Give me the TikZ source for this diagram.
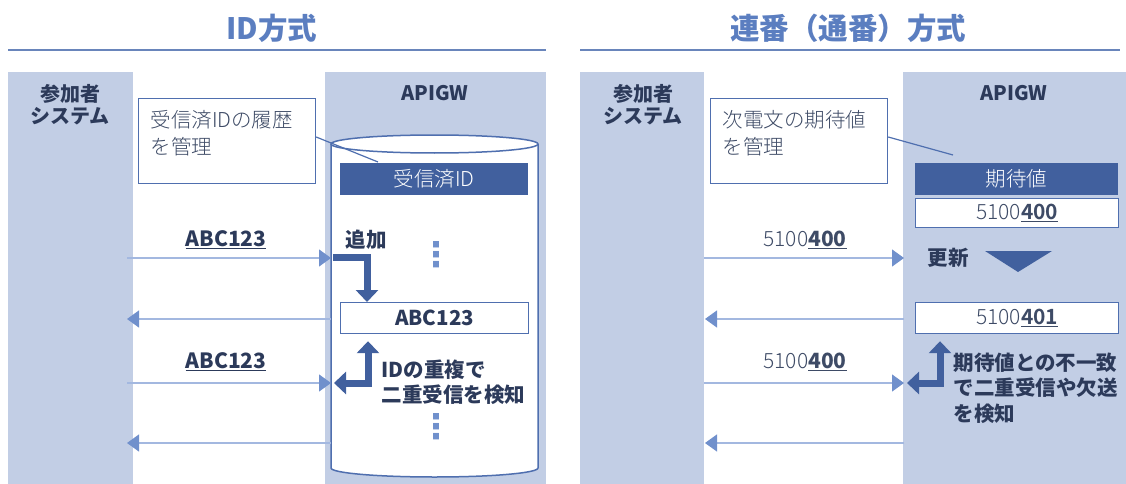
\documentclass[tikz,border=0pt]{standalone}
\usepackage{fontspec}
\setmainfont{Noto Sans CJK JP}
\IfFontExistsTF{Noto Sans CJK JP Light}{\newfontfamily\lightjp{Noto Sans CJK JP Light}}{\newfontfamily\lightjp{Noto Sans CJK JP}}
\newfontfamily\dejavu{DejaVu Sans}
\usetikzlibrary{arrows.meta}
\definecolor{colfill}{HTML}{C2CEE5}
\definecolor{titleblue}{HTML}{5B7EC0}
\definecolor{darkblue}{HTML}{41609E}
\definecolor{boxborder}{HTML}{4F6FAF}
\definecolor{thinline}{HTML}{A3B8E0}
\definecolor{headblue}{HTML}{7090CC}
\definecolor{txtdark}{HTML}{2C3A5A}
\definecolor{txtgray}{HTML}{3E4B66}
\tikzset{
  col/.style={fill=colfill, draw=none},
  ttl/.style={font=\fontsize{29.5}{32}\selectfont\bfseries, text=titleblue},
  colhead/.style={font=\fontsize{20}{25}\selectfont\bfseries, text=txtdark, align=center},
  callout/.style={draw=boxborder, line width=1.2pt, fill=white, inner sep=0pt},
  callouttext/.style={font=\fontsize{20.5}{27}\selectfont\lightjp, text=txtgray, align=left, anchor=north west},
  header/.style={fill=darkblue, draw=none, text=white, font=\fontsize{20.5}{22}\selectfont\lightjp, inner sep=0pt},
  valbox/.style={fill=white, draw=boxborder, line width=1.2pt, text=txtgray, font=\fontsize{21}{22}\selectfont\lightjp, inner sep=0pt},
  msg/.style={draw=thinline, line width=1.3pt, -{Triangle[width=17pt,length=12pt,color=headblue]}},
  lbl/.style={font=\fontsize{21}{22}\selectfont, text=txtdark},
  bigarrow/.style={draw=darkblue, line width=7pt},
  note/.style={font=\fontsize{20.5}{25.5}\selectfont\bfseries, text=txtdark, align=left},
  vdots/.style={text=headblue, font=\fontsize{34}{34}\selectfont\dejavu\bfseries, inner sep=0pt},
  leader/.style={draw=boxborder, line width=1.2pt}
}
\begin{document}
\begin{tikzpicture}[x=1pt,y=-1pt]
\useasboundingbox (0,0) rectangle (1126,484);
% ================= LEFT: ID方式 =================
\node[ttl] (t1) at (272,28) {ID方式};
\draw[boxborder!85, line width=1.6pt] (8,50) -- (546,50);
\fill[col] (8,72) rectangle (133,484);
\fill[col] (325,72) rectangle (546,484);
\node[colhead] (p1) at (70,105) {参加者\\[-3pt]システム};
\node[colhead] (g1) at (435,93) {APIGW};
% callout
\node[callout, minimum width=177pt, minimum height=85pt, anchor=north west] (c1) at (138,98) {};
\node[callouttext] (c1t) at (147,107) {受信済IDの履歴\\を管理};
% cylinder
\draw[boxborder, line width=1.5pt, fill=white] (331,144) -- (331,468)
  arc[start angle=180, end angle=0, x radius=103.5, y radius=9] -- (538,144);
\draw[boxborder, line width=1.5pt, fill=white] (434.5,144) ellipse[x radius=103.5, y radius=9];
\coordinate (c1end) at (378,162);
\draw[leader] (c1.east |- 0,137) -- (c1end);
\node[header, minimum width=188pt, minimum height=32pt, anchor=north west] (h1) at (340,163) {受信済ID};
\node[vdots] (d1) at (436,255) {⋮};
\node[valbox, minimum width=188pt, minimum height=31pt, anchor=north west, font=\fontsize{20.5}{22}\selectfont\bfseries, text=txtdark] (v1) at (340,302) {ABC123};
\node[vdots] (d2) at (436,427) {⋮};
% columns anchors
\coordinate (L1a) at (127,258); \coordinate (R1a) at (331,258);
\coordinate (L1b) at (127,319); \coordinate (R1b) at (331,319);
\coordinate (L1c) at (127,383); \coordinate (R1c) at (331,383);
\coordinate (L1d) at (127,443); \coordinate (R1d) at (331,443);
\draw[msg] (L1a) -- (R1a);
\draw[msg] (R1b) -- (L1b);
\draw[msg] (L1c) -- (R1c);
\draw[msg] (R1d) -- (L1d);
\node[lbl, font=\fontsize{21}{22}\selectfont\bfseries] (a1) at (226,240) {\underline{ABC123}};
\node[lbl, font=\fontsize{21}{22}\selectfont\bfseries] (a2) at (226,362) {\underline{ABC123}};
\node[note, anchor=west] (add1) at (342,240) {追加};
% big elbow arrows
\coordinate (e1s) at (333,257);
\coordinate (e1m) at (367,257);
\draw[bigarrow, -{Triangle[width=22pt,length=12pt]}] (e1s) -- (e1m) -- (e1m |- v1.north);
\coordinate (e2m) at (368,383);
\coordinate (e2l) at (334,383);
\draw[bigarrow, {Triangle[width=22pt,length=12pt]}-{Triangle[width=22pt,length=12pt]}] (e2m |- v1.south) ++(0,7) -- (e2m) -- (e2l);
\node[note, anchor=north west] (n1) at (378,356) {IDの重複で\\二重受信を検知};
% ================= RIGHT: 連番（通番）方式 =================
\node[ttl] (t2) at (848,28) {連番（通番）方式};
\draw[boxborder!85, line width=1.6pt] (580,50) -- (1120,50);
\fill[col] (580,72) rectangle (704,484);
\fill[col] (903,72) rectangle (1126,484);
\node[colhead] (p2) at (643,105) {参加者\\[-3pt]システム};
\node[colhead] (g2) at (1014,93) {APIGW};
\node[callout, minimum width=177pt, minimum height=85pt, anchor=north west] (c2) at (710,98) {};
\node[callouttext] (c2t) at (719,107) {次電文の期待値\\を管理};
\coordinate (c2end) at (953,155);
\draw[leader] (c2.east |- 0,137) -- (c2end);
\node[header, minimum width=203pt, minimum height=32pt, anchor=north west] (h2) at (915,163) {期待値};
\node[valbox, minimum width=203pt, minimum height=29pt, anchor=north west] (v2) at (915,198) {5100{\bfseries\underline{400}}};
\node[valbox, minimum width=203pt, minimum height=31pt, anchor=north west] (v3) at (915,302) {5100{\bfseries\underline{401}}};
\node[note, anchor=west] (upd) at (924,258) {更新};
\fill[darkblue] (985,251) -- (1052,251) -- (1018,272) -- cycle;
\coordinate (L2a) at (704,258); \coordinate (R2a) at (904,258);
\coordinate (L2b) at (705,319); \coordinate (R2b) at (904,319);
\coordinate (L2c) at (704,383); \coordinate (R2c) at (904,383);
\coordinate (L2d) at (705,443); \coordinate (R2d) at (904,443);
\draw[msg] (L2a) -- (R2a);
\draw[msg] (R2b) -- (L2b);
\draw[msg] (L2c) -- (R2c);
\draw[msg] (R2d) -- (L2d);
\node[lbl, text=txtgray] (b1) at (805,240) {{\lightjp 5100}{\bfseries\underline{400}}};
\node[lbl, text=txtgray] (b2) at (805,362) {{\lightjp 5100}{\bfseries\underline{400}}};
\coordinate (e3m) at (940,383);
\coordinate (e3l) at (907,383);
\draw[bigarrow, {Triangle[width=22pt,length=12pt]}-{Triangle[width=22pt,length=12pt]}] (e3m |- v3.south) ++(0,7) -- (e3m) -- (e3l);
\node[note, anchor=north west] (n2) at (950,349) {期待値との不一致\\で二重受信や欠送\\を検知};
\end{tikzpicture}
\end{document}
